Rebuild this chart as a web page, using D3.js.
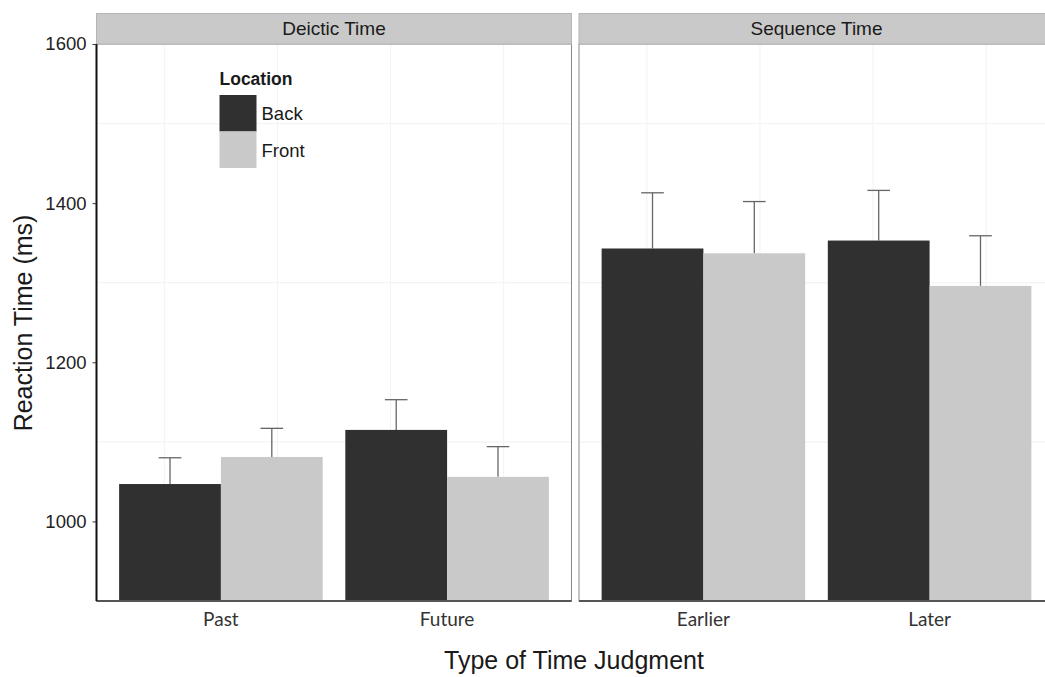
<!DOCTYPE html>
<html>
<head>
<meta charset="utf-8">
<title>Reaction time</title>
<style>
body { margin: 0; background: #fff; }
text { font-family: "Liberation Sans", Arial, sans-serif; fill: #1a1a1a; }
</style>
</head>
<body>
<div id="chart"></div>
<script src="https://cdn.jsdelivr.net/npm/d3@7/dist/d3.min.js"></script>
<script>
// data
var panels = ['Deictic Time', 'Sequence Time'];
var categories = [['Past', 'Future'], ['Earlier', 'Later']];
var locations = ['Back', 'Front'];
var backMeans = [1047, 1115, 1343, 1353];
var frontMeans = [1081, 1056, 1337, 1296];
var backUpper = [1080, 1153, 1413, 1416];
var frontUpper = [1117, 1094, 1402, 1359];
var yTicks = [1000, 1200, 1400, 1600];
var yMinor = [1100, 1300, 1500];
var colors = ['#303030', '#c9c9c9'];

var W = 1045, H = 677;
var plotTop = 44, plotBottom = 601, stripH = 30.5;
var panelX = [96.5, 579], panelW = 475;

var svg = d3.select('#chart').append('svg')
    .attr('width', W).attr('height', H);

var y = d3.scaleLinear().domain([900, 1600]).range([plotBottom, plotTop]);

// rows: one per panel/category/location
var rows = [];
panels.forEach(function(p, pi) {
    categories[pi].forEach(function(c, ci) {
        var k = pi * 2 + ci;
        rows.push({panel: pi, cat: c, loc: 'Back', mean: backMeans[k], upper: backUpper[k]});
        rows.push({panel: pi, cat: c, loc: 'Front', mean: frontMeans[k], upper: frontUpper[k]});
    });
});

panels.forEach(function(p, pi) {
    var g = svg.append('g').attr('transform', 'translate(' + panelX[pi] + ',0)');
    var x = d3.scaleBand().domain(categories[pi]).range([0, panelW])
        .paddingInner(0.1).paddingOuter(0.1);
    var xs = d3.scaleBand().domain(locations).range([0, x.bandwidth()]);

    // faint grid
    g.selectAll('.hg').data(yMinor).enter().append('line')
        .attr('x1', 0).attr('x2', panelW)
        .attr('y1', d => y(d)).attr('y2', d => y(d))
        .attr('stroke', '#f4f4f4').attr('stroke-width', 1.2);
    var vg = [];
    categories[pi].forEach(function(c) {
        var cx = x(c) + x.bandwidth() / 2;
        vg.push(cx - x.step() / 4, cx + x.step() / 4);
    });
    g.selectAll('.vg').data(vg).enter().append('line')
        .attr('x1', d => d).attr('x2', d => d)
        .attr('y1', plotTop).attr('y2', plotBottom)
        .attr('stroke', '#f4f4f4').attr('stroke-width', 1.2);

    var data = rows.filter(r => r.panel == pi);

    // error bars (upper only)
    var cap = x.step() * 0.05;
    data.forEach(function(d) {
        var cx = x(d.cat) + xs(d.loc) + xs.bandwidth() / 2;
        g.append('line').attr('x1', cx).attr('x2', cx)
            .attr('y1', y(d.mean)).attr('y2', y(d.upper))
            .attr('stroke', '#666').attr('stroke-width', 1.3);
        g.append('line').attr('x1', cx - cap).attr('x2', cx + cap)
            .attr('y1', y(d.upper)).attr('y2', y(d.upper))
            .attr('stroke', '#666').attr('stroke-width', 1.3);
    });

    g.selectAll('.bar').data(data).enter().append('rect')
        .attr('x', d => x(d.cat) + xs(d.loc))
        .attr('width', xs.bandwidth())
        .attr('y', d => y(d.mean))
        .attr('height', d => plotBottom - y(d.mean))
        .attr('fill', d => colors[locations.indexOf(d.loc)]);

    // panel border
    g.append('rect').attr('x', 0).attr('y', plotTop)
        .attr('width', panelW).attr('height', plotBottom - plotTop)
        .attr('fill', 'none').attr('stroke', '#8a8a8a').attr('stroke-width', 1);
    g.append('line').attr('x1', 0).attr('x2', panelW)
        .attr('y1', plotBottom).attr('y2', plotBottom)
        .attr('stroke', '#555').attr('stroke-width', 1.8);

    // strip
    g.append('rect').attr('x', 0).attr('y', plotTop - stripH)
        .attr('width', panelW).attr('height', stripH)
        .attr('fill', '#c9c9c9').attr('stroke', '#b5b5b5').attr('stroke-width', 1);
    g.append('text').attr('x', panelW / 2).attr('y', plotTop - stripH / 2)
        .attr('dy', '0.35em').attr('text-anchor', 'middle')
        .style('font-size', '19px').text(p);

    // category labels
    g.selectAll('.xl').data(categories[pi]).enter().append('text')
        .attr('x', d => x(d) + x.bandwidth() / 2)
        .attr('y', 626)
        .attr('text-anchor', 'middle')
        .style('font-family', 'Lato, "Open Sans", sans-serif')
        .style('font-size', '19px')
        .style('fill', '#333')
        .text(d => d);

    if (pi == 0) {
        var yAxis = d3.axisLeft(y).tickValues(yTicks).tickSize(4).tickPadding(6)
            .tickFormat(d3.format('d'));
        var ag = g.append('g').call(yAxis);
        ag.select('.domain').attr('stroke', '#111').attr('stroke-width', 2)
            .attr('d', 'M0,' + plotTop + 'V' + plotBottom);
        ag.selectAll('.tick line').attr('stroke', '#333');
        ag.selectAll('.tick text')
            .style('font-family', '"Liberation Sans", Arial, sans-serif')
            .style('font-size', '18.5px').style('fill', '#222');

        // legend
        var lg = g.append('g').attr('transform', 'translate(123,0)');
        lg.append('text').attr('x', 0).attr('y', 85)
            .style('font-size', '17.5px').style('font-weight', 'bold')
            .text('Location');
        locations.forEach(function(l, li) {
            lg.append('rect').attr('x', 0).attr('y', 95 + li * 36.5)
                .attr('width', 37).attr('height', 36.5)
                .attr('fill', colors[li]);
            lg.append('text').attr('x', 42).attr('y', 95 + li * 36.5 + 18)
                .attr('dy', '0.38em')
                .style('font-size', '18.5px')
                .text(l);
        });
    }
});

// axis titles
svg.append('text').attr('x', 574).attr('y', 669)
    .attr('text-anchor', 'middle').style('font-size', '25px')
    .text('Type of Time Judgment');
svg.append('text')
    .attr('transform', 'translate(32,323) rotate(-90)')
    .attr('text-anchor', 'middle').style('font-size', '25px')
    .text('Reaction Time (ms)');
</script>
</body>
</html>
